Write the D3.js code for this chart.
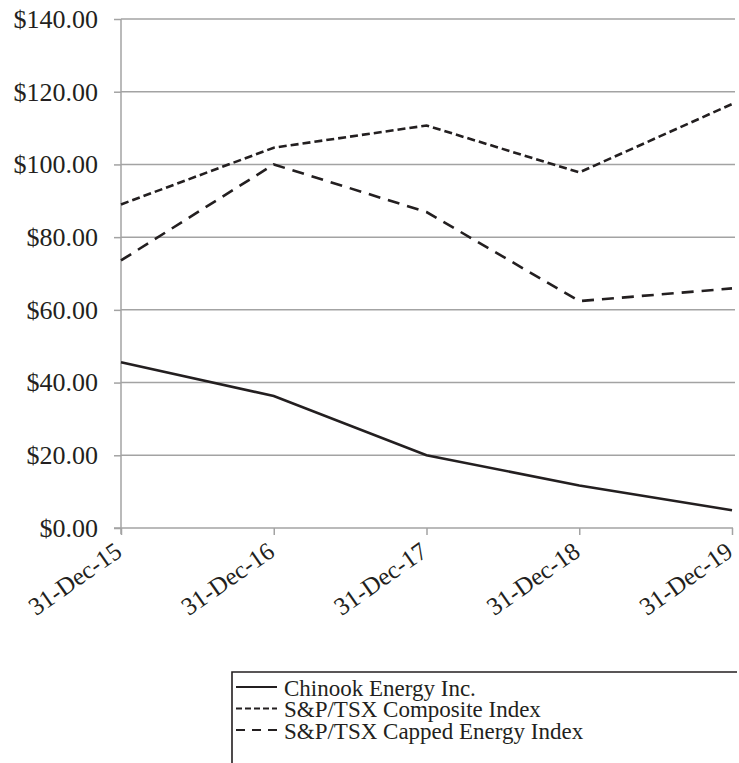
<!DOCTYPE html>
<html>
<head>
<meta charset="utf-8">
<script src="https://cdn.jsdelivr.net/npm/d3@7/dist/d3.min.js"></script>
<style>
  body { margin: 0; background: #fff; }
  svg text { font-family: "Liberation Serif", "Times New Roman", serif; fill: #231f20; }
</style>
</head>
<body>
<svg id="chart" width="739" height="763"></svg>
<script>
// chart data
var dates = ['31-Dec-15', '31-Dec-16', '31-Dec-17', '31-Dec-18', '31-Dec-19'];
var chinook = [45.6, 36.3, 20.0, 11.7, 4.9];
var composite = [89.0, 104.6, 110.7, 97.8, 116.6];
var capped = [73.6, 100.0, 86.9, 62.4, 65.9];
var yTicks = [0, 20, 40, 60, 80, 100, 120, 140];

var seriesNames = ['Chinook Energy Inc.', 'S&P/TSX Composite Index', 'S&P/TSX Capped Energy Index'];
var seriesValues = [chinook, composite, capped];
var dashes = [null, '8,4', '12,8']; // solid, short dash, long dash
var legendDashes = [null, '6,3', '9,7'];

var svg = d3.select('#chart');
var grey = '#a3a3a3', ink = '#231f20';
var serif = '"Liberation Serif", "Times New Roman", serif';

var x = d3.scalePoint().domain(dates).range([121, 732]);
var y = d3.scaleLinear().domain([0, 140]).range([528, 19]);

//horizontal grid
svg.append('g').selectAll('line')
    .data(yTicks.filter(function (d) { return d > 0; }))
    .enter().append('line')
    .attr('x1', 121).attr('x2', 735)
    .attr('y1', function (d) { return y(d); })
    .attr('y2', function (d) { return y(d); })
    .attr('stroke', grey).attr('stroke-width', 1.5);

//y axis
var yAxis = svg.append('g')
    .attr('transform', 'translate(121,0)')
    .call(d3.axisLeft(y).tickValues(yTicks).tickSize(7).tickPadding(16)
        .tickFormat(function (d) { return '$' + d3.format('.2f')(d); }));
yAxis.select('.domain').attr('stroke', grey).attr('stroke-width', 1.5).attr('d', 'M0,' + y(140) + 'V' + (y(0) + 6));
yAxis.selectAll('.tick line').attr('stroke', grey).attr('stroke-width', 1.5);
yAxis.selectAll('.tick text').style('font-size', '26px').attr('fill', ink)
    .style('font-family', serif);

//x axis, labels slanted up to the tick
var xAxis = svg.append('g')
    .attr('transform', 'translate(0,' + y(0) + ')')
    .call(d3.axisBottom(x).tickSize(7).tickSizeOuter(0));
xAxis.select('.domain').attr('stroke', grey).attr('stroke-width', 1.5).attr('d', 'M114,0H733');
xAxis.selectAll('.tick line').attr('stroke', grey).attr('stroke-width', 1.5);
xAxis.selectAll('.tick text')
    .style('font-size', '25px').attr('fill', ink)
    .style('font-family', serif)
    .attr('text-anchor', 'end')
    .attr('dy', null).attr('y', 0)
    .attr('transform', 'translate(2,27) rotate(-35)');

//series lines
var line = d3.line()
    .x(function (d, i) { return x(dates[i]); })
    .y(function (d) { return y(d); });

seriesValues.forEach(function (vals, i) {
    svg.append('path')
        .datum(vals)
        .attr('d', line)
        .attr('fill', 'none')
        .attr('stroke', ink)
        .attr('stroke-width', 2.6)
        .attr('stroke-dasharray', dashes[i]);
});

//legend box (only top and left borders fall inside the picture)
var lg = svg.append('g');
lg.append('path')
    .attr('d', 'M232,763V672H737')
    .attr('fill', 'none').attr('stroke', ink).attr('stroke-width', 1.6);

var rows = lg.selectAll('g.row')
    .data(seriesNames)
    .enter().append('g')
    .attr('class', 'row')
    .attr('transform', function (d, i) { return 'translate(0,' + (688 + i * 21.5) + ')'; });
rows.append('line')
    .attr('x1', 236).attr('x2', 277)
    .attr('y1', -1).attr('y2', -1)
    .attr('stroke', ink).attr('stroke-width', 2.2)
    .attr('stroke-dasharray', function (d, i) { return legendDashes[i]; });
rows.append('text')
    .attr('x', 284).attr('y', 0).attr('dy', '0.33em')
    .style('font-size', '23px')
    .text(function (d) { return d; });
</script>
</body>
</html>
